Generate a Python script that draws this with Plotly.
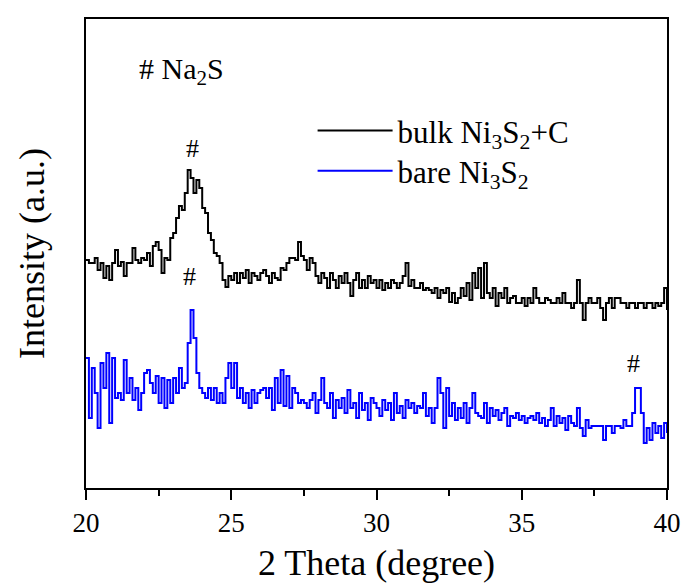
import plotly.graph_objects as go

two_theta = [round(20 + 0.1 * i, 1) for i in range(201)]

bulk_ni3s2_c = [
    228, 225, 225, 230, 218, 225, 210, 222, 208, 225,
    238, 222, 226, 212, 225, 225, 240, 228, 225, 230,
    228, 235, 222, 242, 246, 238, 215, 230, 228, 250,
    255, 270, 282, 278, 295, 318, 310, 295, 308, 300,
    280, 275, 255, 248, 235, 232, 225, 208, 201, 212,
    208, 215, 205, 215, 210, 218, 205, 215, 212, 208,
    215, 218, 212, 205, 215, 210, 208, 220, 218, 225,
    230, 230, 228, 246, 232, 228, 218, 230, 225, 212,
    205, 215, 210, 200, 215, 208, 200, 212, 205, 215,
    205, 192, 208, 215, 200, 208, 200, 212, 205, 208,
    200, 208, 198, 205, 200, 208, 205, 200, 205, 212,
    225, 202, 208, 200, 200, 205, 198, 200, 198, 195,
    200, 190, 198, 195, 200, 186, 195, 185, 190, 200,
    192, 205, 188, 215, 200, 220, 190, 225, 195, 190,
    200, 182, 195, 190, 200, 185, 190, 192, 185, 185,
    190, 182, 190, 185, 200, 190, 185, 185, 190, 188,
    185, 185, 190, 185, 195, 185, 185, 180, 185, 208,
    185, 168, 185, 190, 185, 185, 190, 180, 168, 185,
    190, 180, 190, 190, 185, 185, 180, 185, 185, 180,
    185, 185, 180, 185, 185, 180, 185, 182, 185, 200,
    178,
]

bare_ni3s2 = [
    130, 70, 120, 95, 60, 125, 100, 135, 65, 130,
    90, 95, 88, 128, 95, 110, 88, 100, 78, 95,
    115, 118, 105, 95, 112, 85, 110, 80, 108, 85,
    110, 95, 120, 100, 105, 145, 178, 150, 115, 100,
    95, 90, 100, 88, 100, 85, 95, 85, 110, 125,
    100, 125, 90, 100, 85, 95, 80, 98, 85, 95,
    98, 100, 90, 100, 78, 110, 85, 118, 82, 112,
    80, 100, 95, 85, 88, 85, 80, 88, 95, 75,
    88, 110, 85, 80, 95, 70, 88, 80, 90, 75,
    98, 80, 85, 70, 95, 78, 85, 68, 90, 85,
    80, 72, 88, 78, 85, 68, 95, 75, 82, 70,
    88, 80, 85, 75, 82, 80, 95, 72, 80, 65,
    80, 110, 95, 60, 100, 72, 85, 68, 80, 70,
    85, 65, 80, 95, 75, 72, 70, 85, 65, 80,
    72, 78, 68, 75, 80, 62, 72, 70, 75, 68,
    72, 65, 70, 72, 68, 75, 65, 70, 62, 68,
    80, 62, 72, 65, 70, 58, 72, 65, 62, 80,
    60, 52, 68, 60, 62, 62, 62, 62, 48, 62,
    62, 55, 62, 62, 60, 68, 62, 62, 75, 100,
    100, 75, 45, 60, 48, 65, 55, 62, 50, 65,
    55,
]

peak_marks_x = [23.65, 23.55, 38.85]
peak_marks_y = [340, 212, 125]

x_ticks = [20, 25, 30, 35, 40]
x_minor_ticks = [22.5, 27.5, 32.5, 37.5]

FONT = "Liberation Serif, Times New Roman, serif"

fig = go.Figure()
fig.add_trace(go.Scatter(x=two_theta, y=bulk_ni3s2_c, mode="lines",
                         line=dict(color="black", width=2, shape="hv"),
                         legend="legend",
                         name="bulk Ni<sub>3</sub>S<sub>2</sub>+C"))
fig.add_trace(go.Scatter(x=two_theta, y=bare_ni3s2, mode="lines",
                         line=dict(color="#0000ff", width=2, shape="hv"),
                         legend="legend2",
                         name="bare Ni<sub>3</sub>S<sub>2</sub>"))

for px, py in zip(peak_marks_x, peak_marks_y):
    fig.add_annotation(x=px, y=py, text="#", showarrow=False,
                       font=dict(family=FONT, size=26, color="black"))

fig.add_annotation(x=0.088, y=0.89, xref="paper", yref="paper",
                   xanchor="left", yanchor="middle",
                   text="# Na<sub>2</sub>S", showarrow=False,
                   font=dict(family=FONT, size=30, color="black"))

legend_style = dict(xanchor="left", yanchor="top", bgcolor="rgba(0,0,0,0)",
                    font=dict(family=FONT, size=31), itemwidth=75)

fig.update_layout(
    width=682, height=583,
    margin=dict(l=86, r=15, t=19, b=95),
    paper_bgcolor="white", plot_bgcolor="white",
    font=dict(family=FONT, color="black"),
    showlegend=True,
    legend=dict(x=0.39, y=0.819, **legend_style),
    legend2=dict(x=0.39, y=0.733, **legend_style),
    xaxis=dict(range=[20, 40], tickvals=x_ticks,
               ticks="outside", ticklen=10, tickwidth=2, tickcolor="black",
               minor=dict(tickvals=x_minor_ticks, ticks="outside",
                          ticklen=6, tickwidth=2, tickcolor="black"),
               showline=True, linewidth=2, linecolor="black", mirror=True,
               showgrid=False, zeroline=False, automargin=False,
               tickfont=dict(family=FONT, size=27),
               title=dict(text="2 Theta (degree)", font=dict(family=FONT, size=36), standoff=14)),
    yaxis=dict(range=[0, 469], showticklabels=False, ticks="",
               showline=True, linewidth=2, linecolor="black", mirror=True,
               showgrid=False, zeroline=False, automargin=False,
               title=dict(text="Intensity (a.u.)", font=dict(family=FONT, size=36), standoff=28)),
)

fig.write_html("out.html")
